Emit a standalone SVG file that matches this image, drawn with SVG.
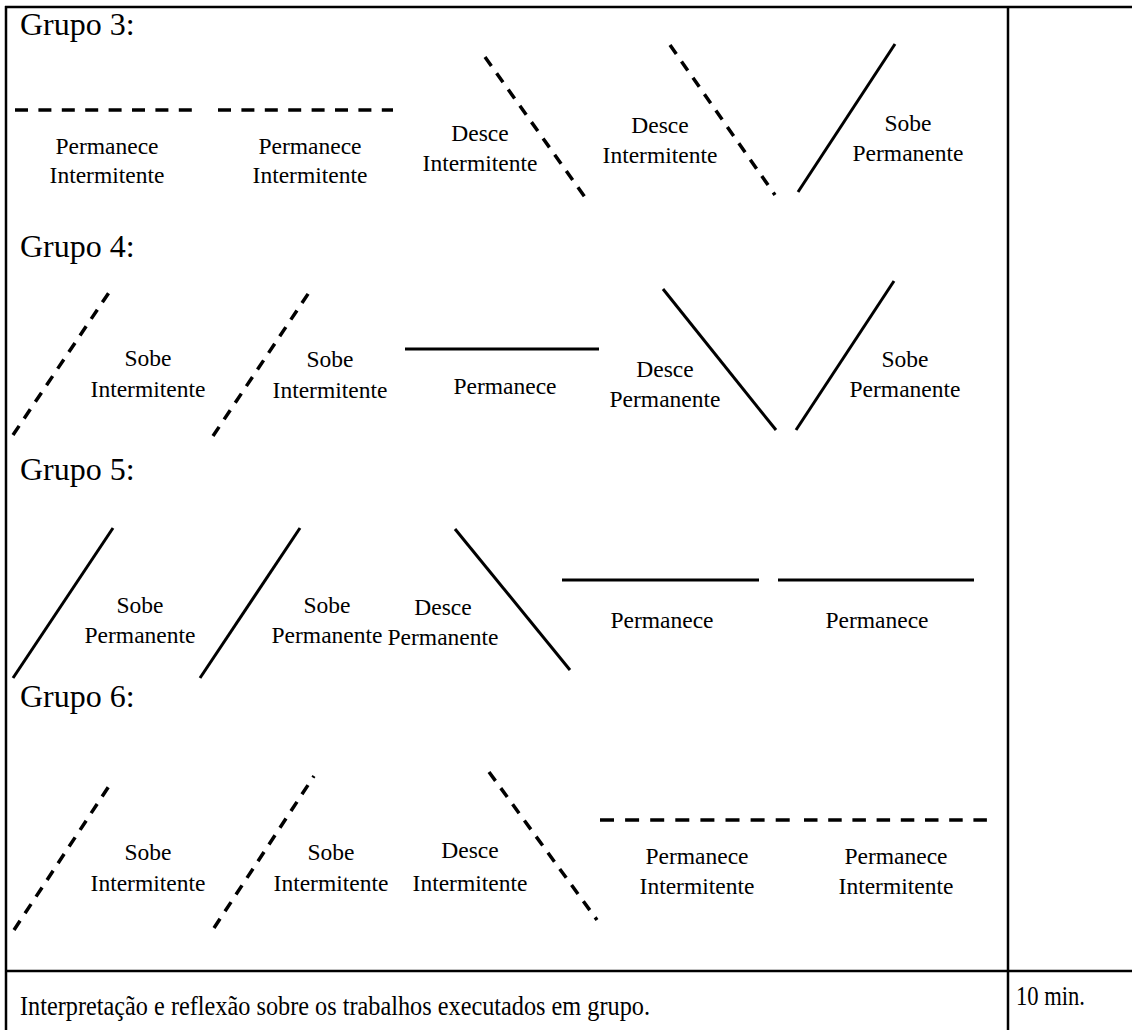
<svg xmlns="http://www.w3.org/2000/svg" width="1132" height="1030" viewBox="0 0 1132 1030">
<style>
.bg{fill:#fff}
.tbl{stroke:#000;stroke-width:2.5;fill:none}
.sol{stroke:#000;stroke-width:3;fill:none}
.dsh{stroke:#000;stroke-width:3.5;fill:none;stroke-dasharray:13 10.4}
.dsd{stroke:#000;stroke-width:3.5;fill:none;stroke-dasharray:11 9}
text{font-family:'Liberation Serif','Times New Roman','DejaVu Serif',serif;fill:#000}
.g{font-size:32px}
.l{font-size:23.5px;text-anchor:middle}
.b{font-size:28px}
</style>
<rect class="bg" x="0" y="0" width="1132" height="1030"/>
<g id="table">
<line class="tbl" x1="5" y1="7" x2="1132" y2="7"/>
<line class="tbl" x1="6" y1="6" x2="6" y2="1030"/>
<line class="tbl" x1="1008" y1="7" x2="1008" y2="1030"/>
<line class="tbl" x1="5" y1="971" x2="1132" y2="971"/>
</g>
<g id="headers">
<text class="g" x="20" y="35">Grupo 3:</text>
<text class="g" x="20" y="257">Grupo 4:</text>
<text class="g" x="20" y="480">Grupo 5:</text>
<text class="g" x="20" y="707">Grupo 6:</text>
</g>
<g id="connectors">
<line class="dsh" x1="15" y1="110" x2="192" y2="110"/>
<line class="dsh" x1="218" y1="110" x2="393" y2="110"/>
<line class="dsd" x1="485" y1="57" x2="587" y2="200"/>
<line class="dsd" x1="670" y1="45" x2="775" y2="195"/>
<line class="sol" x1="798" y1="192" x2="895" y2="44"/>
<line class="dsd" x1="13" y1="435" x2="112" y2="288"/>
<line class="dsd" x1="213" y1="436" x2="310" y2="291"/>
<line class="sol" x1="405" y1="349" x2="599" y2="349"/>
<line class="sol" x1="663" y1="289" x2="776" y2="430"/>
<line class="sol" x1="796" y1="430" x2="894" y2="281"/>
<line class="sol" x1="13" y1="678" x2="113" y2="528"/>
<line class="sol" x1="200" y1="678" x2="300" y2="528"/>
<line class="sol" x1="455" y1="529" x2="570" y2="670"/>
<line class="sol" x1="562" y1="580" x2="759" y2="580"/>
<line class="sol" x1="778" y1="580" x2="974" y2="580"/>
<line class="dsd" x1="14" y1="930" x2="113" y2="780"/>
<line class="dsd" x1="214" y1="928" x2="314" y2="776"/>
<line class="dsd" x1="489" y1="772" x2="597" y2="920"/>
<line class="dsh" x1="600" y1="820" x2="790" y2="820" style="stroke-dasharray:14 11.1"/>
<line class="dsh" x1="804" y1="820" x2="987" y2="820" style="stroke-dasharray:13.5 10.7"/>
</g>
<g id="g3-1"><text class="l" x="107" y="154">Permanece</text><text class="l" x="107" y="183">Intermitente</text></g>
<g id="g3-2"><text class="l" x="310" y="154">Permanece</text><text class="l" x="310" y="183">Intermitente</text></g>
<g id="g3-3"><text class="l" x="480" y="141">Desce</text><text class="l" x="480" y="171">Intermitente</text></g>
<g id="g3-4"><text class="l" x="660" y="133">Desce</text><text class="l" x="660" y="163">Intermitente</text></g>
<g id="g3-5"><text class="l" x="908" y="131">Sobe</text><text class="l" x="908" y="161">Permanente</text></g>
<g id="g4-1"><text class="l" x="148" y="366">Sobe</text><text class="l" x="148" y="397">Intermitente</text></g>
<g id="g4-2"><text class="l" x="330" y="367">Sobe</text><text class="l" x="330" y="398">Intermitente</text></g>
<g id="g4-3"><text class="l" x="505" y="394">Permanece</text></g>
<g id="g4-4"><text class="l" x="665" y="377">Desce</text><text class="l" x="665" y="407">Permanente</text></g>
<g id="g4-5"><text class="l" x="905" y="367">Sobe</text><text class="l" x="905" y="397">Permanente</text></g>
<g id="g5-1"><text class="l" x="140" y="613">Sobe</text><text class="l" x="140" y="643">Permanente</text></g>
<g id="g5-2"><text class="l" x="327" y="613">Sobe</text><text class="l" x="327" y="643">Permanente</text></g>
<g id="g5-3"><text class="l" x="443" y="615">Desce</text><text class="l" x="443" y="645">Permanente</text></g>
<g id="g5-4"><text class="l" x="662" y="628">Permanece</text></g>
<g id="g5-5"><text class="l" x="877" y="628">Permanece</text></g>
<g id="g6-1"><text class="l" x="148" y="860">Sobe</text><text class="l" x="148" y="891">Intermitente</text></g>
<g id="g6-2"><text class="l" x="331" y="860">Sobe</text><text class="l" x="331" y="891">Intermitente</text></g>
<g id="g6-3"><text class="l" x="470" y="858">Desce</text><text class="l" x="470" y="891">Intermitente</text></g>
<g id="g6-4"><text class="l" x="697" y="864">Permanece</text><text class="l" x="697" y="894">Intermitente</text></g>
<g id="g6-5"><text class="l" x="896" y="864">Permanece</text><text class="l" x="896" y="894">Intermitente</text></g>
<g id="footer">
<text class="b" x="20" y="1015" textLength="630" lengthAdjust="spacingAndGlyphs">Interpretação e reflexão sobre os trabalhos executados em grupo.</text>
<text class="b" x="1016" y="1005" font-size="26" textLength="69" lengthAdjust="spacingAndGlyphs">10 min.</text>
</g>
</svg>
